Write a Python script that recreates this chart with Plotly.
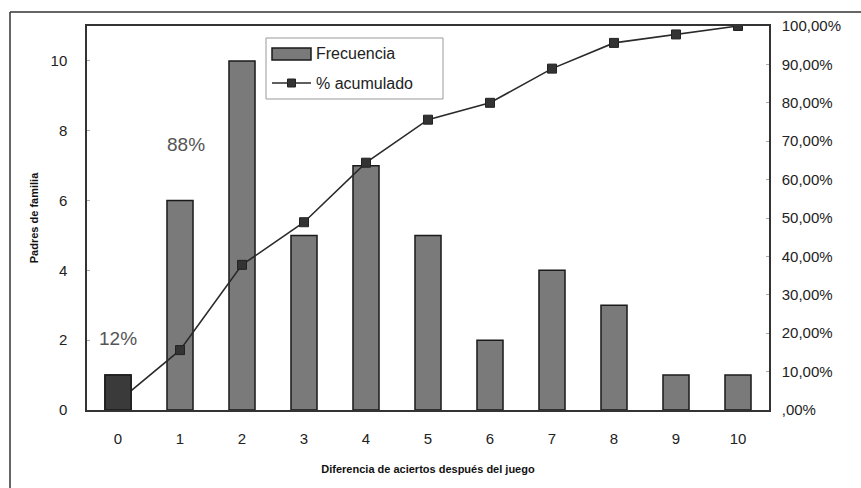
import plotly.graph_objects as go

categorias = [0, 1, 2, 3, 4, 5, 6, 7, 8, 9, 10]
frecuencia = [1, 6, 10, 5, 7, 5, 2, 4, 3, 1, 1]
acumulado = [2.2, 15.6, 37.8, 48.9, 64.4, 75.6, 80.0, 88.9, 95.6, 97.8, 100.0]
y_left_ticks = [0, 2, 4, 6, 8, 10]
y_right_ticks = [0, 10, 20, 30, 40, 50, 60, 70, 80, 90, 100]
y_right_labels = [",00%", "10,00%", "20,00%", "30,00%", "40,00%", "50,00%",
                  "60,00%", "70,00%", "80,00%", "90,00%", "100,00%"]
legend_labels = ["Frecuencia", "% acumulado"]

L, R, T, B = 87, 769, 26, 410
W, H = R - L, B - T


def px(x):
    return (x - L) / W


def py(y):
    return (B - y) / H


fig = go.Figure()
fig.add_trace(go.Bar(
    x=categorias, y=frecuencia, name=legend_labels[0],
    marker=dict(color="#7a7a7a", line=dict(color="#1a1a1a", width=1.5)),
    width=0.42,
))
fig.add_trace(go.Scatter(
    x=categorias, y=acumulado, name=legend_labels[1], yaxis="y2",
    mode="lines+markers",
    line=dict(color="#2a2a2a", width=1.6),
    marker=dict(symbol="square", size=9, color="#333333", line=dict(color="#222", width=1)),
))
# first bar highlighted, drawn above the line
fig.add_trace(go.Bar(
    x=categorias[:1], y=frecuencia[:1], name=legend_labels[0], yaxis="y3",
    marker=dict(color="#3a3a3a", line=dict(color="#1a1a1a", width=1.5)),
    width=0.42, hoverinfo="skip",
))

font_family = "Liberation Sans, Arial, sans-serif"

shapes = [
    # outer frame
    dict(type="line", xref="paper", yref="paper", x0=px(10), x1=1.2,
         y0=py(12), y1=py(12), line=dict(color="#333", width=1.5)),
    dict(type="line", xref="paper", yref="paper", x0=px(10), x1=px(10),
         y0=py(12), y1=-0.3, line=dict(color="#333", width=1.5)),
    # legend box
    dict(type="rect", xref="paper", yref="paper", x0=px(266), x1=px(443),
         y0=py(99), y1=py(38), line=dict(color="#999", width=1), fillcolor="white"),
    # legend bar symbol
    dict(type="rect", xref="paper", yref="paper", x0=px(272), x1=px(311),
         y0=py(60), y1=py(48), line=dict(color="#1a1a1a", width=1.5), fillcolor="#7a7a7a"),
    # legend line symbol
    dict(type="line", xref="paper", yref="paper", x0=px(272), x1=px(311),
         y0=py(83), y1=py(83), line=dict(color="#2a2a2a", width=1.6)),
    dict(type="rect", xref="paper", yref="paper", x0=px(287.5), x1=px(295.5),
         y0=py(87), y1=py(79), line=dict(color="#222", width=1), fillcolor="#333"),
]

fig.update_layout(
    width=861, height=488,
    margin=dict(l=L, r=861 - R, t=T, b=488 - B),
    paper_bgcolor="white", plot_bgcolor="white",
    font=dict(family=font_family, color="#222"),
    showlegend=False,
    xaxis=dict(
        range=[-0.5, 10.5], tickvals=categorias, ticktext=[str(c) for c in categorias],
        showgrid=False, zeroline=False, showline=True, linecolor="#333", linewidth=1.5,
        mirror=True, ticks="", tickfont=dict(size=15, color="#222"),
        ticklabelstandoff=14,
        title=dict(text="<b>Diferencia de aciertos después del juego</b>",
                   font=dict(size=11, color="#111"), standoff=20),
    ),
    yaxis=dict(
        range=[0, 11], tickvals=y_left_ticks, showgrid=False, zeroline=False,
        showline=True, linecolor="#333", linewidth=1.5, ticks="inside", ticklen=3,
        tickcolor="#aaa", tickfont=dict(size=15, color="#222"), ticklabelstandoff=15,
        title=dict(text="<b>Padres de familia</b>", font=dict(size=11, color="#111"),
                   standoff=10),
    ),
    yaxis2=dict(
        range=[0, 100], overlaying="y", side="right", tickvals=y_right_ticks,
        ticktext=y_right_labels, showgrid=False, zeroline=False, showline=True,
        linecolor="#333", linewidth=1.5, ticks="inside", ticklen=3, tickcolor="#aaa",
        tickfont=dict(size=15, color="#222"), ticklabelstandoff=8,
    ),
    yaxis3=dict(
        range=[0, 11], overlaying="y", visible=False, showgrid=False, zeroline=False,
    ),
    annotations=[
        dict(x=0, y=2.05, xref="x", yref="y", text="12%", showarrow=False,
             font=dict(size=19, color="#555", family=font_family)),
        dict(x=1.1, y=7.6, xref="x", yref="y", text="88%", showarrow=False,
             font=dict(size=19, color="#555", family=font_family)),
        dict(x=px(314), y=py(54), xref="paper", yref="paper", text=legend_labels[0],
             showarrow=False, xanchor="left", yanchor="middle",
             font=dict(size=16, color="#222", family=font_family)),
        dict(x=px(314), y=py(83), xref="paper", yref="paper", text=legend_labels[1],
             showarrow=False, xanchor="left", yanchor="middle",
             font=dict(size=16, color="#222", family=font_family)),
    ],
    shapes=shapes,
    bargap=0.5,
)

fig.write_html("out.html")
